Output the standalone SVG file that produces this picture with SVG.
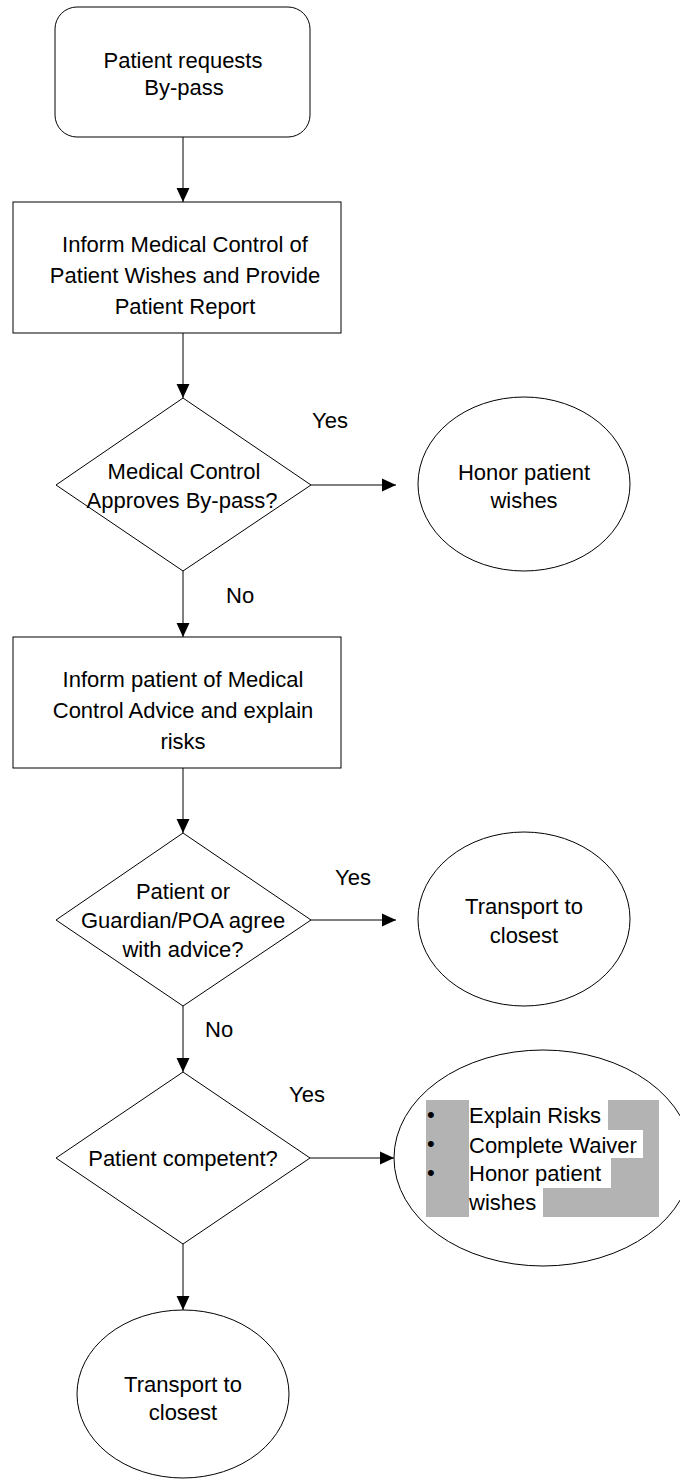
<svg xmlns="http://www.w3.org/2000/svg" width="680" height="1480" viewBox="0 0 680 1480">
<style>
.shape{fill:#fff;stroke:#000;stroke-width:1}
.t{font-family:"Liberation Sans",Arial,sans-serif;font-size:22px;fill:#000}
.c{text-anchor:middle}
.conn{stroke:#000;stroke-width:1;fill:none;marker-end:url(#arr)}
</style>
<defs>
<marker id="arr" markerUnits="userSpaceOnUse" markerWidth="14" markerHeight="14" viewBox="0 0 13 12" refX="13" refY="6" orient="auto">
<polygon points="0,0 13,6 0,12" fill="#000"/>
</marker>
</defs>
<rect width="680" height="1480" fill="#fff"/>
<g id="connectors">
<line class="conn" x1="183" y1="137" x2="183" y2="202"/>
<line class="conn" x1="183" y1="333" x2="183" y2="398"/>
<line class="conn" x1="311" y1="485" x2="396" y2="485"/>
<line class="conn" x1="183" y1="571" x2="183" y2="637"/>
<line class="conn" x1="183" y1="768" x2="183" y2="833"/>
<line class="conn" x1="311" y1="920" x2="396" y2="920"/>
<line class="conn" x1="183" y1="1006" x2="183" y2="1072"/>
<line class="conn" x1="310" y1="1158" x2="394" y2="1158"/>
<line class="conn" x1="183" y1="1244" x2="183" y2="1310"/>
<text class="t" x="312" y="428">Yes</text>
<text class="t" x="226" y="603">No</text>
<text class="t" x="335" y="885">Yes</text>
<text class="t" x="205" y="1037">No</text>
<text class="t" x="289" y="1102">Yes</text>
</g>
<g id="start">
<rect class="shape" x="55" y="7" width="255" height="130" rx="22" ry="22"/>
<text class="t c" x="183" y="68">Patient requests</text>
<text class="t c" x="184" y="95">By-pass</text>
</g>
<g id="inform-mc">
<rect class="shape" x="13" y="202" width="328" height="131"/>
<text class="t c" x="185" y="252">Inform Medical Control of</text>
<text class="t c" x="185" y="283">Patient Wishes and Provide</text>
<text class="t c" x="185" y="314">Patient Report</text>
</g>
<g id="mc-approves">
<polygon class="shape" points="183,398 311,485 183,571 56,485"/>
<text class="t c" x="184" y="479">Medical Control</text>
<text class="t c" x="182" y="508">Approves By-pass?</text>
</g>
<g id="honor1">
<ellipse class="shape" cx="524" cy="484" rx="106" ry="87"/>
<text class="t c" x="524" y="480">Honor patient</text>
<text class="t c" x="524" y="508">wishes</text>
</g>
<g id="inform-patient">
<rect class="shape" x="13" y="637" width="328" height="131"/>
<text class="t c" x="183" y="687">Inform patient of Medical</text>
<text class="t c" x="183" y="718">Control Advice and explain</text>
<text class="t c" x="183" y="749">risks</text>
</g>
<g id="agree">
<polygon class="shape" points="183,833 311,920 183,1006 56,920"/>
<text class="t c" x="183" y="899">Patient or</text>
<text class="t c" x="183" y="928">Guardian/POA agree</text>
<text class="t c" x="183" y="957">with advice?</text>
</g>
<g id="transport1">
<ellipse class="shape" cx="524" cy="919" rx="106" ry="87"/>
<text class="t c" x="524" y="914">Transport to</text>
<text class="t c" x="524" y="943">closest</text>
</g>
<g id="competent">
<polygon class="shape" points="183,1072 310,1158 183,1244 56,1158"/>
<text class="t c" x="183" y="1166">Patient competent?</text>
</g>
<g id="waiver">
<ellipse class="shape" cx="543" cy="1158" rx="149" ry="108"/>
<rect x="426" y="1100" width="233" height="117" fill="#b3b3b3"/>
<rect x="469" y="1100" width="139" height="30" fill="#fff"/>
<rect x="469" y="1130" width="174" height="28" fill="#fff"/>
<rect x="469" y="1158" width="142" height="30" fill="#fff"/>
<rect x="469" y="1188" width="74" height="29" fill="#fff"/>
<text class="t" x="427" y="1122">•</text>
<text class="t" x="427" y="1151">•</text>
<text class="t" x="427" y="1180">•</text>
<text class="t" x="469" y="1123">Explain Risks</text>
<text class="t" x="469" y="1153">Complete Waiver</text>
<text class="t" x="469" y="1181">Honor patient</text>
<text class="t" x="469" y="1210">wishes</text>
</g>
<g id="transport2">
<ellipse class="shape" cx="183" cy="1394" rx="106" ry="84"/>
<text class="t c" x="183" y="1392">Transport to</text>
<text class="t c" x="183" y="1420">closest</text>
</g>
</svg>
